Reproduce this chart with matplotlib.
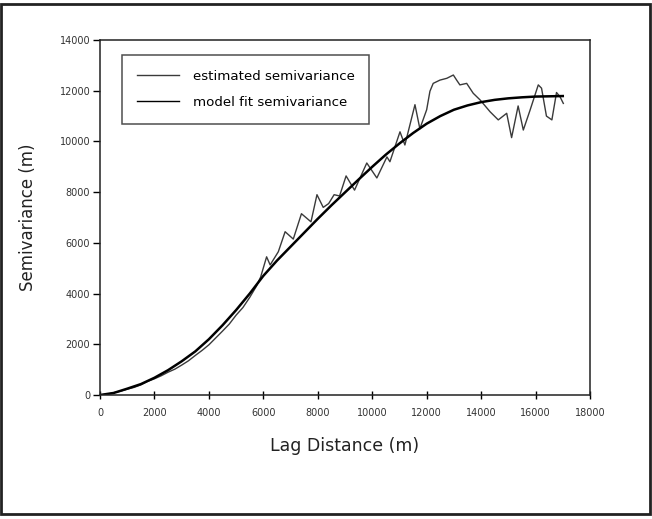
import matplotlib
matplotlib.use('Agg')
import matplotlib.pyplot as plt
from matplotlib.patches import Rectangle

est_lag = [0, 250, 500, 750, 1000, 1250, 1500, 1750, 2000, 2250,
           2500, 2750, 3000, 3250, 3500, 3750, 4000, 4250, 4500, 4750,
           5000, 5250, 5500, 5750, 5900, 6120, 6250, 6550, 6800, 7100,
           7400, 7750, 7970, 8200, 8400, 8600, 8800, 9040, 9350, 9800,
           10170, 10540, 10650, 11020, 11200, 11570, 11750, 12000, 12120, 12240,
           12490, 12740, 12980, 13100, 13220, 13470, 13710, 13960, 14330, 14630,
           14940, 15120, 15360, 15550, 15800, 16100, 16220, 16400, 16600, 16770,
           16900, 17020]
est_val = [0, 30, 90, 150, 230, 300, 400, 540, 640, 760,
           900, 1020, 1180, 1350, 1560, 1760, 1980, 2250, 2520, 2800,
           3150, 3450, 3850, 4300, 4650, 5450, 5130, 5650, 6440, 6150,
           7150, 6830, 7900, 7400, 7550, 7900, 7850, 8640, 8080, 9150,
           8560, 9390, 9200, 10380, 9860, 11450, 10500, 11250, 11980, 12290,
           12420, 12490, 12620, 12420, 12230, 12290, 11900, 11640, 11170, 10850,
           11110, 10150, 11400, 10450, 11240, 12230, 12100, 11000, 10850, 11930,
           11760, 11500]

# fitted model semivariance
fit_lag = [0, 500, 1000, 1500, 2000, 2500, 3000, 3500, 4000, 4500,
           5000, 5500, 6000, 6500, 7000, 7500, 8000, 8500, 9000, 9500,
           10000, 10500, 11000, 11500, 12000, 12500, 13000, 13500, 14000, 14500,
           15000, 15500, 16000, 16500, 17000]
fit_val = [0, 80, 250, 430, 680, 980, 1330, 1720, 2200, 2750,
           3350, 4000, 4700, 5300, 5850, 6400, 6950, 7480, 7990, 8500,
           9000, 9480, 9920, 10330, 10700, 11000, 11250, 11420, 11550, 11640,
           11700, 11740, 11770, 11780, 11790]

x_ticks = [0, 2000, 4000, 6000, 8000, 10000, 12000, 14000, 16000, 18000]
y_ticks = [0, 2000, 4000, 6000, 8000, 10000, 12000, 14000]

plt.rcParams['font.family'] = ['DejaVu Sans']

fig = plt.figure(figsize=(6.52, 5.19), dpi=100)
fig.patch.set_facecolor('white')
# frame round the whole picture
fig.patches.append(Rectangle((0.002, 0.009), 0.995, 0.984, transform=fig.transFigure,
                             fill=False, edgecolor='#222222', linewidth=2.0))

ax = fig.add_axes([0.1534, 0.2389, 0.7515, 0.684])
ax.plot(est_lag, est_val, color='#3a3a3a', linewidth=1.0, label='estimated semivariance')
ax.plot(fit_lag, fit_val, color='black', linewidth=1.8, label='model fit semivariance')

ax.set_xlim(0, 18000)
ax.set_ylim(0, 14000)
ax.set_xticks(x_ticks)
ax.set_yticks(y_ticks)
ax.set_xticklabels([str(t) for t in x_ticks], fontsize=7, color='#333333')
ax.set_yticklabels([str(t) for t in y_ticks], fontsize=7, color='#333333')
ax.tick_params(axis='y', direction='out', length=5, width=1, pad=2)
ax.tick_params(axis='x', direction='inout', length=6, width=1, pad=6)
for s in ax.spines.values():
    s.set_linewidth(1.1)
    s.set_color('#222222')

ax.set_xlabel('Lag Distance (m)', fontsize=12.5, color='#222222', labelpad=14)
ax.set_ylabel('Semivariance (m)', fontsize=12, color='#222222', labelpad=16)

leg = ax.legend(loc='upper left', bbox_to_anchor=(0.045, 0.958), fontsize=9.6,
                frameon=True, fancybox=False, handlelength=3.2, borderpad=1.1,
                labelspacing=1.0, handletextpad=1.0, borderaxespad=0.0)
leg.get_frame().set_edgecolor('#222222')
leg.get_frame().set_linewidth(1.1)
for line in leg.get_lines():
    line.set_linewidth(1.0)

fig.savefig('out.png', dpi=100)
